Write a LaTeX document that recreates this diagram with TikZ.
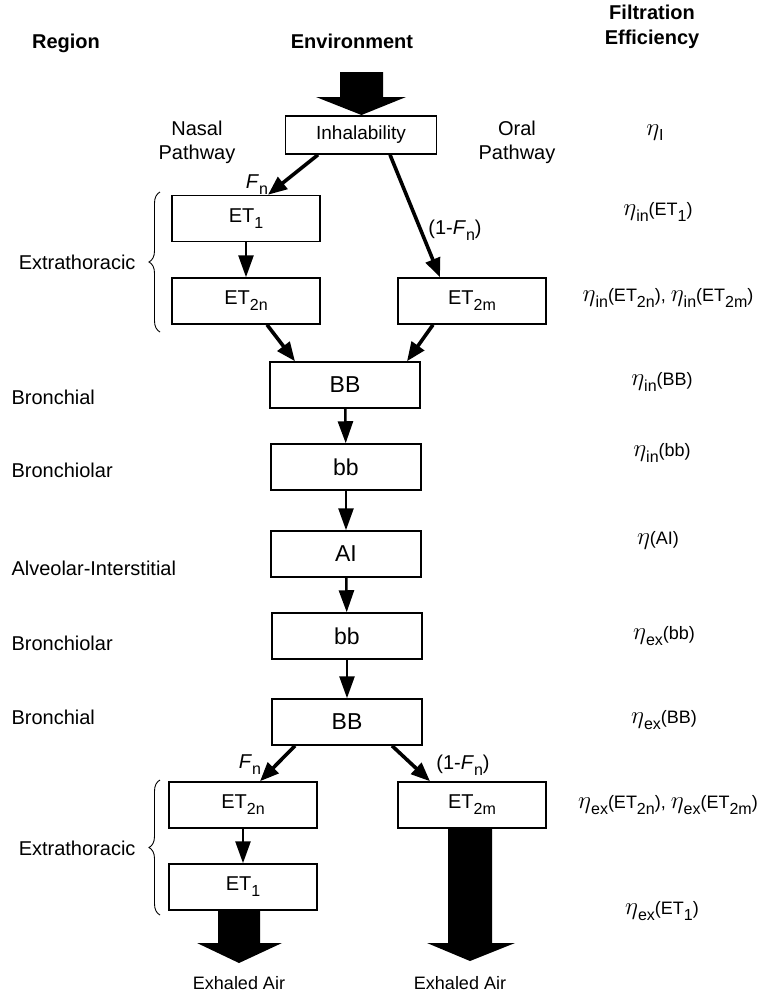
\documentclass[tikz,border=0pt]{standalone}
\usepackage{fontspec}
\setmainfont{Liberation Sans}
\usetikzlibrary{arrows.meta,calc,decorations.pathreplacing}
\newcommand{\dn}[1]{\raisebox{-0.55ex}{\fontsize{16}{16}\selectfont #1}}
\newcommand{\eff}{{\fontsize{27}{27}\selectfont$\eta$}}

\begin{document}
\begin{tikzpicture}[x=1pt,y=-1pt,
    box/.style={draw,line width=1.5pt,minimum width=148pt,minimum height=46pt,
                inner sep=0pt,font=\fontsize{20}{22}\selectfont},
    midbox/.style={box,minimum width=150pt,font=\fontsize{23}{25}\selectfont},
    lbl/.style={font=\fontsize{20}{24}\selectfont,align=center},
    head/.style={font=\fontsize{20}{25}\bfseries\selectfont,align=center},
    effl/.style={font=\fontsize{18}{22}\selectfont},
    flow/.style={line width=3.6pt,-{Triangle[length=19pt,width=15pt]}},
    down/.style={line width=2.6pt,-{Triangle[length=22pt,width=15pt]}}]
  \useasboundingbox (0,0) rectangle (777,994);
  %% Column headings
  \node[head] (hreg) at (66,43) {Region};
  \node[head] (henv) at (352,41) {Environment};
  \node[head] (hfil) at (652,27) {Filtration\\Efficiency};
  %% Inhaled air
  \fill (340,72)--(383,72)--(383,97)--(406,97)--(361.5,115)--(316,97)--(340,97)--cycle;
  \node[box,minimum width=151pt,minimum height=38pt,font=\fontsize{19}{21}\selectfont]
       (inh) at (361,135) {Inhalability};
  \node[lbl] (nasal) at (197,142) {Nasal\\Pathway};
  \node[lbl] (oral) at (517,142) {Oral\\Pathway};
  \node[effl] (eI) at (655,133) {\eff\dn{I}};
  %% Inhalation: extrathoracic
  \node[box] (et1a) at (246,218.5) {ET\dn{1}};
  \node[box] (et2na) at (246,301) {ET\dn{2n}};
  \node[box] (et2ma) at (472,301) {ET\dn{2m}};
  \draw[flow] ($(inh.south)+(-43,0)$) -- ($(et1a.north)+(22,0)$);
  \draw[flow] ($(inh.south)+(29,0)$) -- ($(et2ma.north)+(-32,0)$);
  \draw[down] (et1a) -- (et2na);
  \node[lbl] (fn1) at (257,185) {\textit{F}\dn{n}};
  \node[lbl] (fm1) at (455,230) {(1-\textit{F}\dn{n})};
  \draw[line width=0.9pt,decorate,decoration={brace,amplitude=11pt}]
       (160,332) -- (160,192);
  \node[lbl,anchor=east] (xt1) at (139,262) {Extrathoracic};
  \node[effl] (e1) at (658,212) {\eff\dn{in}(ET\dn{1})};
  \node[effl] (e2) at (668,298) {\eff\dn{in}(ET\dn{2n}), \eff\dn{in}(ET\dn{2m})};
  %% Lung
  \node[midbox] (bb1) at (345,385) {BB};
  \node[midbox] (bs1) at (346,467) {bb};
  \node[midbox] (ai) at (346,554) {AI};
  \node[midbox] (bs2) at (347,636) {bb};
  \node[midbox] (bb2) at (347,722) {BB};
  \draw[flow] ($(et2na.south)+(21,0)$) -- ($(bb1.north)+(-50,0)$);
  \draw[flow] ($(et2ma.south)+(-39,0)$) -- ($(bb1.north)+(62,0)$);
  \draw[down] (bb1) -- (bs1);
  \draw[down] (bs1) -- (ai);
  \draw[down] (ai) -- (bs2);
  \draw[down] (bs2) -- (bb2);
  \node[lbl,anchor=west] (r1) at (8,397) {Bronchial};
  \node[lbl,anchor=west] (r2) at (8,470) {Bronchiolar};
  \node[lbl,anchor=west] (r3) at (8,568) {Alveolar-Interstitial};
  \node[lbl,anchor=west] (r4) at (8,643) {Bronchiolar};
  \node[lbl,anchor=west] (r5) at (8,717) {Bronchial};
  \node[effl] (e3) at (662,382) {\eff\dn{in}(BB)};
  \node[effl] (e4) at (662,453) {\eff\dn{in}(bb)};
  \node[effl] (e5) at (658,540) {\eff(AI)};
  \node[effl] (e6) at (664,636) {\eff\dn{ex}(bb)};
  \node[effl] (e7) at (664,720) {\eff\dn{ex}(BB)};
  %% Exhalation: extrathoracic
  \node[box] (et2nb) at (243,805) {ET\dn{2n}};
  \node[box] (et2mb) at (472,805) {ET\dn{2m}};
  \node[box] (et1b) at (243,887) {ET\dn{1}};
  \draw[flow] ($(bb2.south)+(-52,0)$) -- ($(et2nb.north)+(17,0)$);
  \draw[flow] ($(bb2.south)+(45,0)$) -- ($(et2mb.north)+(-42,0)$);
  \draw[down] (et2nb) -- (et1b);
  \node[lbl] (fn2) at (250,765) {\textit{F}\dn{n}};
  \node[lbl] (fm2) at (463,765) {(1-\textit{F}\dn{n})};
  \draw[line width=0.9pt,decorate,decoration={brace,amplitude=11pt}]
       (160,915) -- (160,780);
  \node[lbl,anchor=east] (xt2) at (139,848) {Extrathoracic};
  \node[effl] (e8) at (668,805) {\eff\dn{ex}(ET\dn{2n}), \eff\dn{ex}(ET\dn{2m})};
  \node[effl] (e9) at (662,911) {\eff\dn{ex}(ET\dn{1})};
  %% Exhaled air
  \fill (218,910)--(260,910)--(260,943)--(282,943)--(239,963)--(197,943)--(218,943)--cycle;
  \fill (448,828)--(492,828)--(492,943)--(515,943)--(470,961)--(427,943)--(448,943)--cycle;
  \node[lbl,font=\fontsize{18}{20}\selectfont] (ex1) at (239,983) {Exhaled Air};
  \node[lbl,font=\fontsize{18}{20}\selectfont] (ex2) at (460,983) {Exhaled Air};
\end{tikzpicture}
\end{document}
